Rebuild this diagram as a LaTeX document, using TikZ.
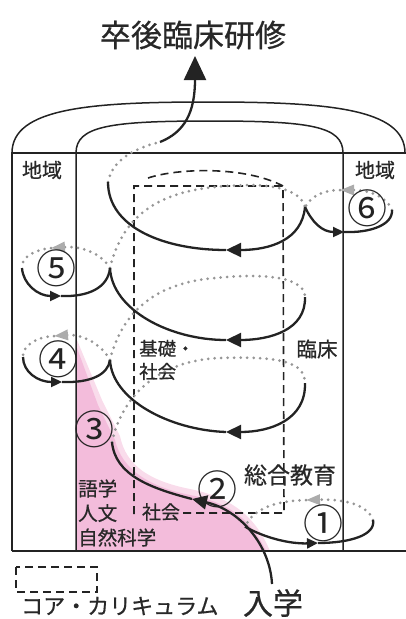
\documentclass[tikz,border=0pt]{standalone}
\usepackage{fontspec}
\setmainfont{Noto Sans CJK JP}[FakeBold=0.6]
\newfontfamily\numfont{Noto Sans CJK JP}
\usetikzlibrary{arrows.meta}
\definecolor{ink}{RGB}{35,35,35}
\definecolor{txt}{RGB}{40,40,40}
\definecolor{dotc}{RGB}{150,150,150}
\definecolor{tipg}{RGB}{172,172,172}
\definecolor{pinkA}{RGB}{243,188,219}
\definecolor{pinkB}{RGB}{249,220,235}
\tikzset{
 frame/.style={draw=ink, line width=1.5pt},
 core/.style={draw=ink, line width=1.6pt, dash pattern=on 8pt off 5pt},
 front/.style={draw=ink, line width=2.3pt},
 back/.style={draw=dotc, line width=3pt, dash pattern=on 0pt off 6.5pt, line cap=round},
 bigtip/.style={-{Triangle[length=15pt,width=14pt]}},
 looptip/.style={-{Triangle[length=11pt,width=10pt]}},
 greytip/.style={-{Triangle[length=14pt,width=10pt,color=tipg]}},
 lbl/.style={inner sep=0pt, text=txt},
 num/.style={inner sep=0pt, text=ink, font=\numfont\fontsize{40}{40}\selectfont},
}
\begin{document}
\begin{tikzpicture}[x=1pt,y=-1pt]
\useasboundingbox (0,0) rectangle (406,619);

% pink area
\fill[pinkB] (77,340) -- (77,551) -- (270,551) .. controls (256,518) and (234,498) .. (190,489) .. controls (150,481) and (126,466) .. (120,436) -- (102,400) -- cycle;
\fill[pinkA] (77,348) -- (77,551) -- (266,551) .. controls (252,522) and (232,503) .. (190,495) .. controls (150,487) and (122,470) .. (115,440) -- (98,405) -- cycle;

% frame
\draw[frame] (12,551) -- (12,153) -- (406,153);
\draw[frame] (12,551) -- (406,551);
\draw[frame] (12,153) .. controls (12,108) and (90,102) .. (208,102) .. controls (326,102) and (405,108) .. (405,153);
\draw[frame] (76,551) -- (76,153) .. controls (76,126) and (110,121) .. (210,121) .. controls (310,121) and (343,126) .. (343,153) -- (343,551);

% core curriculum (dashed)
\draw[core] (134,514) -- (134,186) -- (283,186) -- (284,513) -- (183,513);
\draw[core] (148,178) .. controls (178,168) and (245,166) .. (283,186);

% coordinates
\coordinate (S) at (272,584);
\coordinate (A2) at (192,499);
\coordinate (P3) at (112,442);
\coordinate (R1) at (305,383);
\coordinate (A3) at (226,432);
\coordinate (J4) at (110,360);
\coordinate (R2) at (305,297);
\coordinate (A4) at (226,340);
\coordinate (J5) at (110,268);
\coordinate (J6) at (305,207);
\coordinate (A5) at (226,250);
\coordinate (L6) at (108,182);
\coordinate (T) at (160,142);
\coordinate (Top) at (195,56);
\path (S) .. controls (270,545) and (240,510) .. (A2) coordinate[pos=0.55] (J1);
\coordinate (A1) at (318,543);
\coordinate (E1) at (373,520);
\coordinate (G1) at (306,500);
\coordinate (G4) at (54,336);
\coordinate (W4) at (23,357);
\coordinate (B4) at (62,382);
\coordinate (G5) at (51,248);
\coordinate (W5) at (22,268);
\coordinate (B5) at (61,296);
\coordinate (B6) at (344,232);
\coordinate (E6) at (392,210);
\coordinate (G6) at (340,190);

% back (dotted) lines
\draw[back] (P3) .. controls (122,395) and (160,360) .. (220,358) .. controls (280,356) and (305,362) .. (R1);
\draw[back] (J4) .. controls (122,312) and (155,283) .. (215,278) .. controls (275,272) and (305,280) .. (R2);
\draw[back] (J5) .. controls (122,218) and (155,193) .. (215,187) .. controls (275,181) and (300,190) .. (J6);
\draw[back] (L6) .. controls (112,160) and (135,148) .. (T);
% loop backs
\draw[back,greytip] (E1) .. controls (368,505) and (345,499) .. (G1);
\draw[back] (G1) .. controls (280,501) and (255,506) .. (J1);
\draw[back,greytip] (J4) .. controls (100,342) and (80,334) .. (G4);
\draw[back] (G4) .. controls (36,337) and (22,346) .. (W4);
\draw[back,greytip] (J5) .. controls (100,252) and (80,246) .. (G5);
\draw[back] (G5) .. controls (33,250) and (21,258) .. (W5);
\draw[back,greytip] (E6) .. controls (388,198) and (370,190) .. (G6);
\draw[back] (G6) .. controls (325,190) and (312,195) .. (J6);

% front (solid) lines
\draw[front,bigtip] (S) .. controls (270,545) and (240,510) .. (A2);
\draw[front] (A2) .. controls (150,488) and (115,475) .. (P3);
\draw[front,looptip] (J1) .. controls (265,538) and (290,544) .. (A1);
\draw[front] (A1) .. controls (350,543) and (376,535) .. (E1);
\draw[front,bigtip] (R1) .. controls (306,420) and (270,432) .. (A3);
\draw[front] (A3) .. controls (170,430) and (112,400) .. (J4);
\draw[front,looptip] (W4) .. controls (23,372) and (38,382) .. (B4);
\draw[front] (B4) .. controls (90,383) and (108,375) .. (J4);
\draw[front,bigtip] (R2) .. controls (306,330) and (270,340) .. (A4);
\draw[front] (A4) .. controls (170,340) and (112,310) .. (J5);
\draw[front,looptip] (W5) .. controls (23,284) and (38,296) .. (B5);
\draw[front] (B5) .. controls (88,297) and (108,288) .. (J5);
\draw[front,looptip] (J6) .. controls (312,222) and (322,232) .. (B6);
\draw[front] (B6) .. controls (370,233) and (393,225) .. (E6);
\draw[front,bigtip] (J6) .. controls (302,240) and (270,250) .. (A5);
\draw[front] (A5) .. controls (165,250) and (108,228) .. (L6);
\draw[front,-{Triangle[length=24pt,width=22pt]}] (T) .. controls (185,132) and (195,112) .. (Top);

% texts
\node[lbl, font=\fontsize{31}{31}\selectfont] (title) at (193,35) {卒後臨床研修};
\node[lbl, font=\fontsize{20}{20}\selectfont] (regL) at (42,170) {地域};
\node[lbl, font=\fontsize{20}{20}\selectfont] (regR) at (375,170) {地域};
\node[lbl, font=\fontsize{18.5}{23}\selectfont, align=left, anchor=west] (kiso) at (139,360) {基礎・\\社会};
\node[lbl, font=\fontsize{20.5}{20.5}\selectfont] (rinsho) at (317,349) {臨床};
\node[lbl, font=\fontsize{23}{23}\selectfont] (sogo) at (290,475) {総合教育};
\node[lbl, font=\fontsize{19.5}{24.5}\selectfont, align=left, anchor=west] (gogaku) at (78,513) {語学\\人文\\自然科学};
\node[lbl, font=\fontsize{19}{19}\selectfont] (shakai) at (161,512) {社会};
\node[lbl, font=\fontsize{22}{22}\selectfont, anchor=west] (core) at (21,606) {コア・カリキュラム};
\node[lbl, font=\fontsize{30}{30}\selectfont] (nyugaku) at (273,603) {入学};
\draw[core] (16,567) rectangle (97,592);

% circled numbers
\node[num] (n1) at (323,523) {①};
\node[num] (n2) at (217,489) {②};
\node[num] (n3) at (94,429) {③};
\node[num] (n4) at (58,359) {④};
\node[num] (n5) at (56,268) {⑤};
\node[num] (n6) at (367,208) {⑥};
\end{tikzpicture}
\end{document}
